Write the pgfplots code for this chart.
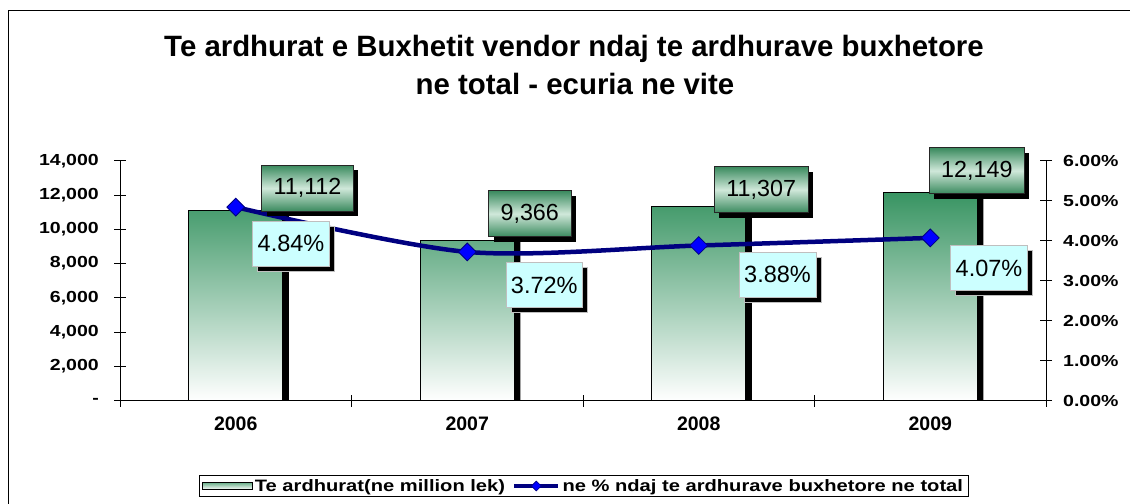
\documentclass[border=0pt]{standalone}
\usepackage{fontspec}
\setmainfont{Liberation Sans}
\newfontfamily\widefont{Liberation Sans}[FakeStretch=1.22]
\usepackage{pgfplots}
\pgfplotsset{compat=1.18}
\usepackage{pgfplotstable}
\usetikzlibrary{shadows}
\pgfkeys{/pgf/number format/assume math mode=true}

\definecolor{bargreen}{RGB}{56,148,98}
\definecolor{boxgreen}{RGB}{58,138,94}
\definecolor{boxlight}{RGB}{208,232,218}
\definecolor{labelcyan}{RGB}{204,255,255}
\definecolor{navyline}{RGB}{0,0,128}
\definecolor{markblue}{RGB}{0,0,255}

\pgfplotstableread{
x val dx dy
0 11112 71.75 22
1 9366 62.5 26.4
2 11307 62.5 17.2
3 12149 46.6 21.7
}\bardata
\pgfplotstableread{
x pct dx dy
0 4.84 55.25 -36.4
1 3.72 77 -33.1
2 3.88 78.75 -29
3 4.07 58.75 -30.1
}\pctdata

\pgfplotsset{
  commonaxis/.style={
    scale only axis, width=926bp, height=240bp,
    at={(120bp,-400.7bp)}, anchor=south west,
    xmin=-0.5, xmax=3.5,
    clip=false,
  },
}

\begin{document}
\begin{tikzpicture}
% outer border (only left and top visible)
\draw[black, line width=0.9bp] (8bp,-600bp) -- (8bp,-10bp) -- (1300bp,-10bp);
% title
\node[anchor=base, font=\bfseries\fontsize{29.4bp}{35bp}\selectfont, inner sep=0pt] at (574bp,-56bp) {Te ardhurat e Buxhetit vendor ndaj te ardhurave buxhetore};
\node[anchor=base, font=\bfseries\fontsize{29.4bp}{35bp}\selectfont, inner sep=0pt] at (575bp,-94bp) {ne total - ecuria ne vite};

\begin{axis}[
  commonaxis,
  ymin=0, ymax=14000,
  axis x line*=bottom, axis y line*=left,
  axis line style={black, line width=0.8bp},
  xtick={-0.5,0.5,1.5,2.5,3.5}, xticklabels={},
  extra x ticks={0,1,2,3},
  extra x tick labels={2006,2007,2008,2009},
  extra x tick style={major tick length=0pt},
  ytick={0,2000,4000,6000,8000,10000,12000,14000},
  yticklabels={{-},{2,000},{4,000},{6,000},{8,000},{10,000},{12,000},{14,000}},
  scaled y ticks=false,
  tick align=center,
  major tick length=12bp,
  tick style={black, line width=0.8bp},
  xticklabel style={font=\bfseries\fontsize{19.5bp}{22bp}\selectfont, inner sep=0pt, yshift=-16bp},
  yticklabel style={font=\widefont\bfseries\fontsize{16bp}{19bp}\selectfont, inner sep=0pt, xshift=-15bp},
  legend columns=2,
  legend style={
    at={(axis description cs:0.5005,-0.3554)}, anchor=center,
    draw=black, line width=0.8bp,
    inner xsep=3bp, inner ysep=1bp,
    font=\widefont\bfseries\fontsize{16.5bp}{19bp}\selectfont,
    nodes={inner xsep=2bp, inner ysep=3bp},
    /tikz/every even column/.append style={column sep=5bp},
  },
]
% bar shadow
\addplot[ybar, bar width=94bp, bar shift=6bp, fill=black, draw=none, forget plot]
  table[x=x, y=val]{\bardata};
% bars
\addplot[ybar, bar width=94bp, bar shift=0bp, draw=black, line width=1.1bp,
  top color=bargreen, bottom color=white,
  legend image code/.code={\draw[top color=bargreen!75, bottom color=white, draw=black, line width=1bp] (0bp,-3.5bp) rectangle (50bp,3.5bp);}]
  table[x=x, y=val]{\bardata};
\addlegendentry{Te ardhurat(ne million lek)}
\addlegendimage{navyline, line width=4.5bp,
  legend image code/.code={
    \draw[navyline, line width=4.5bp] (0bp,0bp) -- (44bp,0bp);
    \path (22bp,0bp) node[draw=navyline, fill=markblue, line width=0.6bp, rotate=45, minimum size=7bp, inner sep=0pt]{};
  }}
\addlegendentry{ne \% ndaj te ardhurave buxhetore ne total}
\end{axis}

\begin{axis}[
  commonaxis,
  ymin=0, ymax=6,
  axis x line=none, axis y line*=right,
  axis line style={black, line width=0.8bp},
  ytick={0,1,2,3,4,5,6},
  yticklabel={\pgfmathprintnumber[fixed,fixed zerofill,precision=2]{\tick}\%},
  tick align=center,
  major tick length=12bp,
  tick style={black, line width=0.8bp},
  yticklabel style={font=\widefont\bfseries\fontsize{16bp}{19bp}\selectfont, inner sep=0pt, xshift=11bp, anchor=west},
]
\addplot[navyline, line width=4.5bp, smooth, mark=square*, mark size=6.3bp,
  mark options={rotate=45, fill=markblue, draw=navyline, line width=0.8bp},
  visualization depends on={\thisrow{dx} \as \labdx},
  visualization depends on={\thisrow{dy} \as \labdy},
  nodes near coords={\pgfmathprintnumber[fixed,fixed zerofill,precision=2]{\pgfplotspointmeta}\%},
  every node near coord/.append style={anchor=center, xshift=\labdx bp, yshift=\labdy bp,
    fill=labelcyan, draw=black!25, line width=0.5bp, text=black,
    font=\fontsize{23.5bp}{26bp}\selectfont,
    inner xsep=5bp, minimum height=45bp,
    drop shadow={shadow xshift=5bp, shadow yshift=-5bp, fill=black, opacity=1}},
  ]
  table[x=x, y=pct]{\pctdata};
\end{axis}

\begin{axis}[
  commonaxis,
  ymin=0, ymax=14000,
  hide axis,
]
\addplot[draw=none, mark=none,
  visualization depends on={\thisrow{dx} \as \labdx},
  visualization depends on={\thisrow{dy} \as \labdy},
  nodes near coords={\pgfmathprintnumber[1000 sep={,}]{\pgfplotspointmeta}},
  every node near coord/.append style={anchor=center, xshift=\labdx bp, yshift=\labdy bp,
    top color=boxgreen, bottom color=boxgreen, middle color=boxlight,
    draw=black!85, line width=0.8bp, text=black,
    font=\fontsize{23.3bp}{26bp}\selectfont,
    inner xsep=12bp, minimum height=46bp,
    drop shadow={shadow xshift=5bp, shadow yshift=-5bp, fill=black, opacity=1}},
  ]
  table[x=x, y=val]{\bardata};
\end{axis}

\pgfresetboundingbox
\path[use as bounding box] (0bp,0bp) rectangle (1130bp,-504bp);
\end{tikzpicture}
\end{document}
